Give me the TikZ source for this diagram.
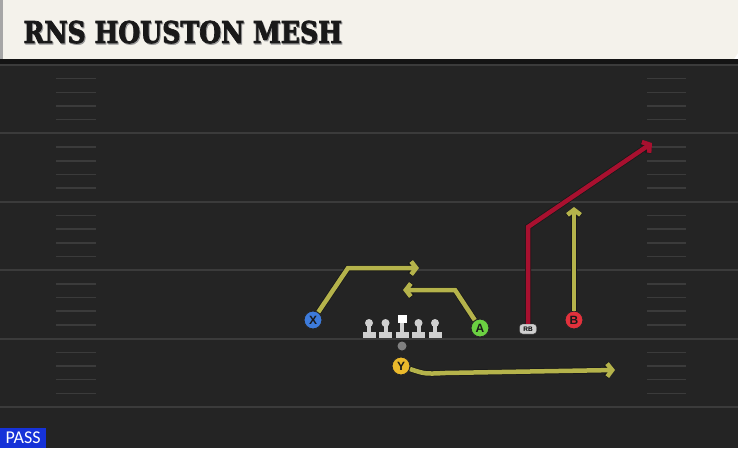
\documentclass[tikz,border=0pt]{standalone}
\usepackage{fontspec}
\setmainfont{Liberation Sans}
\newfontfamily\titlefont{DejaVu Serif}[FakeStretch=0.84, BoldFeatures={FakeBold=2.5}]
\newfontfamily\tagfont{Carlito}
\usetikzlibrary{arrows.meta,calc}

\definecolor{field}{HTML}{242424}
\definecolor{yardline}{HTML}{3B3B3B}
\definecolor{banner}{HTML}{F4F2EB}
\definecolor{routeyellow}{HTML}{B5B34B}
\definecolor{routered}{HTML}{A8102F}
\definecolor{xblue}{HTML}{3D7BDB}
\definecolor{agreen}{HTML}{6BD042}
\definecolor{bred}{HTML}{E2313C}
\definecolor{yyellow}{HTML}{EBBA2C}
\definecolor{linegray}{HTML}{CFCFCF}
\definecolor{passblue}{HTML}{1632D8}

% lineman icon under a node
\newcommand\blocker[1]{%
  \fill[linegray] ($(#1)+(-6.5,-7)$) rectangle ($(#1)+(6.5,-1)$);
  \fill[linegray] ($(#1)+(-2,-1)$) rectangle ($(#1)+(2,8)$);
  \fill[linegray] ($(#1)+(0,8)$) circle (4);}

\begin{document}
\begin{tikzpicture}[x=1pt,y=1pt,node distance=16.5pt,
  player/.style = {circle, draw=black!85, line width=1pt, minimum size=18pt,
    inner sep=0pt, font=\bfseries\fontsize{12}{12}\selectfont, text=black!90},
  lineman/.style = {inner sep=0pt, minimum size=0pt},
  route/.style = {line width=4.5pt, preaction={draw=black!90, line width=6pt},
    -{Straight Barb[length=5pt,width=13pt]}}]
\useasboundingbox (0,0) rectangle (738,448);

% field
\fill[field] (0,0) rectangle (738,389);
\fill[black!92] (0,384) rectangle (738,389);
\foreach \k in {0,...,5}
  \draw[yardline, line width=2pt] (0,383-68.4*\k) -- (738,383-68.4*\k);
\foreach \k in {0,...,4}
  \foreach \j in {1,...,4} {
    \draw[yardline, line width=1.5pt] (56,383-68.4*\k-13.68*\j) -- (96,383-68.4*\k-13.68*\j);
    \draw[yardline, line width=1.5pt] (647,383-68.4*\k-13.68*\j) -- (686,383-68.4*\k-13.68*\j);
  }

% banner
\fill[banner] (3,448) -- (738,448) -- (738,395) -- (734,389) -- (3,389) -- cycle;
\fill[black!35] (0,389) rectangle (3,448);
\node (shadow) [anchor=base west, text=black!40, font=\titlefont\bfseries\fontsize{30}{30}\selectfont] at (21,403.8) {RNS HOUSTON MESH};
\node (title) [anchor=base west, text=black!90, font=\titlefont\bfseries\fontsize{30}{30}\selectfont] at (20,405) {RNS HOUSTON MESH};

% line
\node (lt) [lineman] at (369,117) {};
\node (lg) [lineman, right of=lt] {};
\node (c) [lineman, right of=lg] {};
\node (rg) [lineman, right of=c] {};
\node (rt) [lineman, right of=rg] {};
\blocker{lt} \blocker{lg} \blocker{rg} \blocker{rt}
\fill[linegray] ($(c)+(-6.5,-7)$) rectangle ($(c)+(6.5,-1)$);
\fill[linegray] ($(c)+(-2,-1)$) rectangle ($(c)+(2,8)$);
\fill[white] ($(c)+(-4.5,8)$) rectangle ($(c)+(4.5,16)$);
\fill[black!50] (402,102) circle (4.5);

% players
\node (x) [player, fill=xblue] at (313,128) {X};
\node (a) [player, fill=agreen] at (480,120) {A};
\node (b) [player, fill=bred] at (574,128) {B};
\node (y) [player, fill=yyellow] at (401,82) {Y};
\node (rb) [draw=black!80, fill=linegray, rounded corners=3pt, minimum width=17pt,
  minimum height=10pt, inner sep=0pt, font=\bfseries\fontsize{6.5}{6.5}\selectfont] at (528,119) {RB};

% routes
\coordinate (xc) at (348,180);
\coordinate (xe) at (419,180);
\coordinate (ac) at (455,158);
\coordinate (ae) at (403,158);
\coordinate (yc) at (445,75);
\coordinate (ye) at (615,78);
\coordinate (be) at (574,241);
\coordinate (rbc) at (528,221);
\coordinate (rbe) at (652,305);
\draw[route, routeyellow] (x) -- (xc) -- (xe);
\draw[route, routeyellow] (a) -- (ac) -- (ae);
\draw[route, routeyellow] (y) .. controls (425,74) .. (yc) -- (ye);
\draw[route, routeyellow] (b) -- (be);
\draw[route, routered] (rb) -- (rbc) -- (rbe);

% play type
\node (pass) [anchor=south west, fill=passblue, text=white, minimum width=46pt,
  minimum height=20pt, inner sep=0pt, font=\tagfont\fontsize{18}{18}\selectfont] at (0,0) {PASS};
\end{tikzpicture}
\end{document}
